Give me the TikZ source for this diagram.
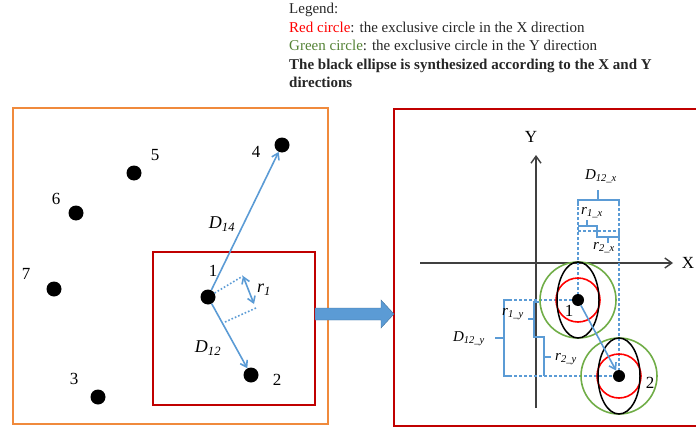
\documentclass[tikz,border=0pt]{standalone}
\usepackage{fontspec}
\setmainfont{Liberation Serif}
\usetikzlibrary{arrows.meta}

\definecolor{lineblue}{HTML}{5B9BD5}
\definecolor{edgeblue}{HTML}{41719C}
\definecolor{boxorange}{HTML}{F08A3C}
\definecolor{boxred}{HTML}{C00000}
\definecolor{circgreen}{HTML}{70AD47}
\definecolor{textgreen}{HTML}{548235}
\definecolor{axisgray}{HTML}{404040}

\newcommand{\sublab}[2]{\textit{#1}\textsubscript{\textit{#2}}}

\begin{document}
\begin{tikzpicture}[x=1pt,y=-1pt,
  dot/.style={circle,fill=black,inner sep=0pt,minimum size=15pt},
  smalldot/.style={circle,fill=black,inner sep=0pt,minimum size=12pt},
  num/.style={font=\fontsize{17}{17}\selectfont,inner sep=1pt},
  lab/.style={font=\fontsize{18}{18}\selectfont,inner sep=1pt},
  rlab/.style={font=\fontsize{15}{15}\selectfont,inner sep=1pt},
  bluearrow/.style={lineblue,line width=1.6pt,-{Straight Barb[length=6pt,width=8pt]}},
  brace/.style={lineblue,line width=1.4pt},
  guide/.style={lineblue,line width=1.2pt,dash pattern=on 3pt off 2pt},
  axis/.style={axisgray,line width=1.4pt,-{Straight Barb[length=7pt,width=10pt]}}]
  \useasboundingbox (0,0) rectangle (696,428);
  \clip (0,0) rectangle (696,428);
  % Legende
  \node[anchor=north west,align=left,inner sep=0pt,text=black!85,
    font=\fontsize{15}{18.5}\selectfont] (legend) at (289,3)
    {Legend:\\
     \textcolor{red}{Red circle}: the exclusive circle in the X direction\\
     \textcolor{textgreen}{Green circle}: the exclusive circle in the Y direction\\
     \textbf{The black ellipse is synthesized according to the X and Y}\\
     \textbf{directions}};
  % Rahmen
  \draw[boxorange,line width=1.6pt] (13,108) rectangle (328,424);
  \draw[boxred,line width=1.6pt] (153,252) rectangle (315,405);
  \draw[boxred,line width=1.6pt] (710,109) -- (394,109) -- (394,426) -- (710,426);
  % Blockpfeil
  \filldraw[fill=lineblue,draw=edgeblue,line width=0.4pt]
    (315,308) -- (381,308) -- (381,300) -- (394,314) -- (381,328) -- (381,320) -- (315,320) -- cycle;
  % Punkte links
  \node[dot] (p1) at (208,297) {};
  \node[dot] (p2) at (251,375) {};
  \node[dot] (p3) at (98,397) {};
  \node[dot] (p4) at (282,145) {};
  \node[dot] (p5) at (134,173) {};
  \node[dot] (p6) at (76,213) {};
  \node[dot] (p7) at (54,289) {};
  \node[num] (l1) at (213,271) {1};
  \node[num] (l2) at (277,380) {2};
  \node[num] (l3) at (74,379) {3};
  \node[num] (l4) at (256,152) {4};
  \node[num] (l5) at (155,155) {5};
  \node[num] (l6) at (56,199) {6};
  \node[num] (l7) at (26,274) {7};
  % Abstaende
  \draw[bluearrow] (p1) -- (p4);
  \draw[bluearrow] (p1) -- (p2);
  \coordinate (r1a) at (243,276);
  \coordinate (r1b) at (225,322);
  \coordinate (r1c) at (256,308);
  \coordinate (r1d) at (254,304);
  \draw[lineblue,line width=1.6pt,dotted] (p1) -- (r1a);
  \draw[lineblue,line width=1.6pt,dotted] (r1b) -- (r1c);
  \draw[lineblue,line width=1.6pt,{Straight Barb[length=6pt,width=8pt]}-{Straight Barb[length=6pt,width=8pt]}] (r1a) -- (r1d);
  \node[lab] (d14) at (222,224) {\sublab{D}{14}};
  \node[lab] (d12) at (208,348) {\sublab{D}{12}};
  \node[lab] (r1) at (264,290) {\sublab{r}{1}};
  % Achsen
  \coordinate (yo) at (536,408);
  \coordinate (yt) at (536,155);
  \coordinate (xo) at (420,263);
  \coordinate (xt) at (673,263);
  \draw[axis] (yo) -- (yt);
  \draw[axis] (xo) -- (xt);
  \node[num] (ylab) at (531,137) {Y};
  \node[num,inner sep=0pt] (xlab) at (688,263) {X};
  % Punkte rechts
  \coordinate (q1) at (578,300);
  \coordinate (q2) at (619,376);
  % Hilfslinien
  \draw[guide] (q1) -- (578,206);
  \draw[guide] (q2) -- (619,206);
  \draw[guide] (578,231) -- (619,231);
  \draw[guide] (509,300) -- (q1);
  \draw[guide] (509,376) -- (q2);
  % Kreise
  \foreach \c in {q1,q2} {
    \draw[circgreen,line width=1.6pt] (\c) circle[radius=38pt];
    \draw[red,line width=1.6pt] (\c) circle[radius=22pt];
    \draw[black,line width=1.5pt] (\c) ellipse[x radius=21pt,y radius=38pt];
  }
  \node[smalldot] (n1) at (q1) {};
  \node[smalldot] (n2) at (q2) {};
  \node[num] (m1) at (569,311) {1};
  \node[num] (m2) at (650,383) {2};
  \draw[bluearrow] (n1) -- (n2);
  % Klammern X
  \draw[brace] (578,206) -- (578,200) -- (619,200) -- (619,206);
  \draw[brace] (598,200) -- (598,190);
  \draw[brace] (578,226) -- (597,226) -- (597,231);
  \draw[brace] (587,226) -- (587,220);
  \draw[brace] (597,231) -- (597,237) -- (619,237) -- (619,231);
  \draw[brace] (608,237) -- (608,243);
  \node[rlab] (dx) at (601,176) {\sublab{D}{12\_x}};
  \node[rlab] (rx1) at (592,213) {\sublab{r}{1\_x}};
  \node[rlab] (rx2) at (604,248) {\sublab{r}{2\_x}};
  % Klammern Y
  \draw[brace] (509,300) -- (504,300) -- (504,376) -- (509,376);
  \draw[brace] (504,338) -- (495,338);
  \draw[brace] (539,302) -- (534,302) -- (534,337) -- (539,337);
  \draw[brace] (534,319) -- (528,319);
  \draw[brace] (539,337) -- (544,337) -- (544,376);
  \draw[brace] (544,357) -- (551,357);
  \node[rlab] (dy) at (469,339) {\sublab{D}{12\_y}};
  \node[rlab] (ry1) at (513,314) {\sublab{r}{1\_y}};
  \node[rlab] (ry2) at (566,359) {\sublab{r}{2\_y}};
\end{tikzpicture}
\end{document}
